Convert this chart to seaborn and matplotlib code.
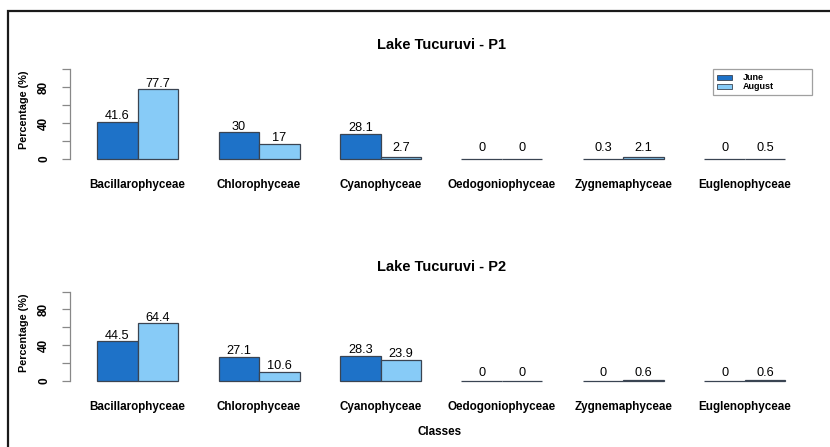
import numpy as np
import pandas as pd
import matplotlib
matplotlib.use("Agg")
import matplotlib.pyplot as plt
import seaborn as sns
from matplotlib.patches import Patch, Rectangle

classes = ["Bacillarophyceae", "Chlorophyceae", "Cyanophyceae",
           "Oedogoniophyceae", "Zygnemaphyceae", "Euglenophyceae"]
months = ["June", "August"]
p1_june = [41.6, 30, 28.1, 0, 0.3, 0]
p1_august = [77.7, 17, 2.7, 0, 2.1, 0.5]
p2_june = [44.5, 27.1, 28.3, 0, 0, 0]
p2_august = [64.4, 10.6, 23.9, 0, 0.6, 0.6]
titles = ["Lake Tucuruvi - P1", "Lake Tucuruvi - P2"]
yticks = [0, 20, 40, 60, 80, 100]
ytick_labels = ["0", "", "40", "", "80", ""]

colors = ["#1E72C8", "#87CBF7"]
edge = "#3a4452"

sns.set_style("white")
plt.rcParams["font.family"] = ["Liberation Sans", "DejaVu Sans"]
plt.rcParams["text.color"] = "black"
plt.rcParams["xtick.color"] = "black"
plt.rcParams["ytick.color"] = "black"
plt.rcParams["axes.labelcolor"] = "black"

W, H = 830, 447
fig = plt.figure(figsize=(W / 100, H / 100), dpi=100)

def frac_box(x0, x1, y0, y1):
    return [x0 / W, 1 - y1 / H, (x1 - x0) / W, (y1 - y0) / H]

ax1 = fig.add_axes(frac_box(69.5, 813, 65.4, 162.6))
ax2 = fig.add_axes(frac_box(69.5, 813, 288.0, 384.6))

panels = [(ax1, p1_june, p1_august, titles[0], 12),
          (ax2, p2_june, p2_august, titles[1], 9)]

for ax, june, aug, title, min_lab in panels:
    df = pd.DataFrame({
        "Class": classes * 2,
        "Month": [months[0]] * len(classes) + [months[1]] * len(classes),
        "Value": list(june) + list(aug),
    })
    sns.barplot(data=df, x="Class", y="Value", hue="Month", order=classes,
                hue_order=months, palette=colors, width=2 / 3, gap=0,
                edgecolor=edge, linewidth=0.9, saturation=1, ax=ax,
                legend=False, errorbar=None)
    ax.set_xlim(-0.56, 5.56)
    ax.set_ylim(-4, 104)
    for cont in ax.containers:
        for bar in cont:
            v = bar.get_height()
            ax.text(bar.get_x() + bar.get_width() / 2, max(v + 6, min_lab),
                    f"{v:g}", ha="center", va="center", fontsize=9.2,
                    color="black")
    for s in ["top", "right", "bottom"]:
        ax.spines[s].set_visible(False)
    ax.spines["left"].set_bounds(0, 100)
    ax.spines["left"].set_color("#888888")
    ax.spines["left"].set_linewidth(0.9)
    ax.set_yticks(yticks)
    ax.set_yticklabels(ytick_labels, rotation=90, va="center", fontsize=8.5,
                       fontweight="bold")
    ax.tick_params(axis="y", left=True, length=6, width=0.9,
                   color="#888888", labelcolor="black", pad=8)
    ax.tick_params(axis="x", length=0, pad=12, labelcolor="black")
    for lab in ax.get_xticklabels():
        lab.set_fontweight("bold")
        lab.set_fontsize(8.4)
    ax.set_xlabel("")
    ax.set_ylabel("Percentage (%)", fontsize=7.8, fontweight="bold",
                  color="black")
    ax.yaxis.set_label_coords(-0.055, 0.54)
    ax.set_title(title, fontsize=10.5, fontweight="bold", pad=12,
                 color="black")
    ax.grid(False)
    ax.patch.set_alpha(0)

handles = [Patch(facecolor=colors[0], edgecolor=edge, linewidth=0.6),
           Patch(facecolor=colors[1], edgecolor=edge, linewidth=0.6)]
leg = ax1.legend(handles, months, loc="upper left",
                 bbox_to_anchor=(0.8655, 0.96, 0.1332, 0.0), mode="expand",
                 fontsize=6.5, frameon=True, fancybox=False, handlelength=1.6,
                 handleheight=0.5, labelspacing=0.0, borderpad=0.45,
                 handletextpad=1.2, borderaxespad=0)
leg.get_frame().set_edgecolor("#888888")
leg.get_frame().set_linewidth(0.9)
for t in leg.get_texts():
    t.set_fontweight("bold")

fig.text(440 / W, 1 - 432 / H, "Classes", ha="center", va="center",
         fontsize=8.4, fontweight="bold")

fig.add_artist(Rectangle((8 / W, -0.1), 1.2, 1 - 11 / H + 0.1,
                         transform=fig.transFigure, fill=False,
                         edgecolor="#1a1a1a", linewidth=1.6))

fig.savefig("out.png", dpi=100, facecolor="white")
